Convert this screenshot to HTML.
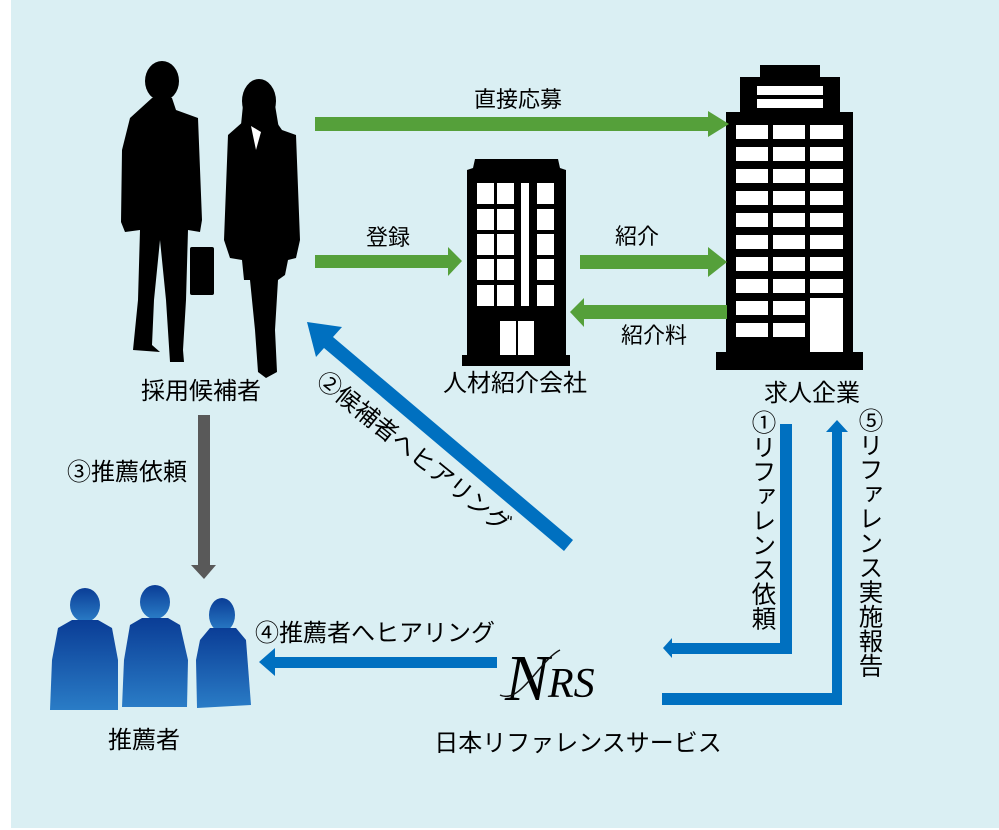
<!DOCTYPE html>
<html><head><meta charset="utf-8"><style>
html,body{margin:0;padding:0;background:#fff;}
svg{display:block;}
text{font-family:"Liberation Sans","Noto Sans CJK JP",sans-serif;fill:#000;}
</style></head><body>
<svg width="999" height="830" viewBox="0 0 999 830" xmlns="http://www.w3.org/2000/svg">
<defs>
<linearGradient id="bg" x1="0" y1="0" x2="0" y2="1"><stop offset="0" stop-color="#0a3d96"/><stop offset="1" stop-color="#2a7cc6"/></linearGradient>
</defs>
<rect x="11" y="0" width="988" height="828" fill="#daeff3"/>

<g fill="#000">
<ellipse cx="162" cy="81" rx="17" ry="20"/>
<path d="M152 98 L172 98 L176 110 L198 118 L202 220 L200 232 L188 230 L186 300 L183 350 L184 362 L170 362 L166 300 L160 240 L154 300 L152 345 L160 352 L133 350 L138 300 L140 230 L125 232 L121 222 L122 150 L130 118 Z"/>
<rect x="190" y="247" width="24" height="48" rx="2"/>
<ellipse cx="259" cy="101" rx="17" ry="22"/>
<path d="M243 105 L275 105 L280 135 L240 135 Z"/>
<path d="M245 120 L275 120 L282 130 L296 135 L300 240 L296 258 L288 260 L285 275 L278 280 L275 330 L277 372 L266 378 L258 372 L255 330 L250 280 L244 280 L242 260 L230 258 L224 240 L228 135 Z"/>
</g>
<path d="M251 126 L256 150 L261 132 Z" fill="#fff"/>

<g>
<path d="M475 159 L558 159 L560 168 L566 170 L566 355 L570 355 L570 366 L462 366 L462 355 L467 355 L467 170 L473 168 Z" fill="#000"/>
<g fill="#fff">
<rect x="477" y="183" width="17" height="21"/><rect x="497" y="183" width="17" height="21"/><rect x="537" y="183" width="17" height="21"/>
<rect x="477" y="209" width="17" height="21"/><rect x="497" y="209" width="17" height="21"/><rect x="537" y="209" width="17" height="21"/>
<rect x="477" y="234" width="17" height="21"/><rect x="497" y="234" width="17" height="21"/><rect x="537" y="234" width="17" height="21"/>
<rect x="477" y="259" width="17" height="21"/><rect x="497" y="259" width="17" height="21"/><rect x="537" y="259" width="17" height="21"/>
<rect x="477" y="285" width="17" height="21"/><rect x="497" y="285" width="17" height="21"/><rect x="537" y="285" width="17" height="21"/>
<rect x="521" y="183" width="8" height="123"/>
<rect x="500" y="321" width="16" height="34"/><rect x="518" y="321" width="16" height="34"/>
</g>
</g>

<g>
<path d="M760 65 L820 65 L820 77 L840 77 L840 112 L853 112 L853 352 L863 352 L863 370 L716 370 L716 352 L726 352 L726 112 L740 112 L740 77 L760 77 Z" fill="#000"/>
<g fill="#fff">
<rect x="757" y="86" width="66" height="9"/><rect x="757" y="99" width="66" height="9"/>
<g id="row"><rect x="736" y="125" width="32" height="14"/><rect x="773" y="125" width="32" height="14"/><rect x="810" y="125" width="33" height="14"/></g>
<use href="#row" y="22"/><use href="#row" y="44"/><use href="#row" y="66"/><use href="#row" y="88"/><use href="#row" y="110"/><use href="#row" y="132"/><use href="#row" y="154"/>
<rect x="736" y="301" width="32" height="14"/><rect x="773" y="301" width="32" height="14"/>
<rect x="736" y="323" width="32" height="14"/><rect x="773" y="323" width="32" height="14"/>
<rect x="810" y="298" width="33" height="54"/>
</g>
</g>

<g fill="#55a03a">
<path d="M315 117 L708 117 L708 111 L729 124 L708 137 L708 131 L315 131 Z"/>
<path d="M315 255 L448 255 L448 247 L462 261 L448 276 L448 268 L315 268 Z"/>
<path d="M580 255 L708 255 L708 247 L727 262 L708 277 L708 269 L580 269 Z"/>
<path d="M727 305 L584 305 L584 298 L570 312 L584 327 L584 319 L727 319 Z"/>
</g>

<path d="M198 415 L210 415 L210 565 L216 565 L204 579 L191 565 L198 565 Z" fill="#595959"/>

<g fill="#0070c0">
<path d="M573 540 L564 551 L324 348 L316 357 L307 322 L342 327 L333 337 Z"/>
<path d="M780 424 L792 424 L792 654 L672 654 L672 658 L663 648 L672 638 L672 643 L780 643 Z"/>
<path d="M662 693 L832 693 L832 432 L826 432 L837 420 L848 432 L842 432 L842 705 L662 705 Z"/>
<path d="M497 657 L275 657 L275 648 L259 662 L275 676 L275 668 L497 668 Z"/>
</g>

<g fill="url(#bg)">
<ellipse cx="85" cy="605" rx="15" ry="17"/>
<path d="M72 620 L98 620 L112 628 L118 660 L118 710 L50 710 L52 660 L58 628 Z"/>
<ellipse cx="155" cy="602" rx="15" ry="17"/>
<path d="M142 618 L168 618 L180 625 L188 660 L187 707 L122 707 L124 660 L130 625 Z"/>
<ellipse cx="222" cy="615" rx="13" ry="17"/>
<path d="M210 628 L236 628 L246 640 L251 705 L197 708 L196 660 L200 640 Z"/>
</g>

<text x="505" y="700" font-style="italic" font-size="66" style="font-family:'Liberation Serif',serif" fill="#111">N</text>
<text x="548" y="697" font-size="42" font-style="italic" style="font-family:'Liberation Serif',serif" fill="#111">RS</text>
<path d="M500 695 C520 705 540 660 560 650" stroke="#111" stroke-width="1.5" fill="none"/>

<g font-size="24">
<text x="518" y="107" text-anchor="middle" font-size="22">直接応募</text>
<text x="388" y="245" text-anchor="middle" font-size="22">登録</text>
<text x="637" y="244" text-anchor="middle" font-size="22">紹介</text>
<text x="654" y="343" text-anchor="middle" font-size="22">紹介料</text>
<text x="201" y="399" text-anchor="middle">採用候補者</text>
<text x="515" y="391" text-anchor="middle">人材紹介会社</text>
<text x="812" y="401" text-anchor="middle">求人企業</text>
<text x="127" y="480" text-anchor="middle">③推薦依頼</text>
<text x="375" y="641" text-anchor="middle">④推薦者へヒアリング</text>
<text x="144" y="748" text-anchor="middle">推薦者</text>
<text x="578" y="751" text-anchor="middle">日本リファレンスサービス</text>
<text transform="translate(315,383) rotate(39)">②候補者へヒアリング</text>
<text x="762" y="410" style="writing-mode:vertical-rl" font-size="24.5">①リファレンス依頼</text>
<text x="869" y="408" style="writing-mode:vertical-rl" font-size="24.5">⑤リファレンス実施報告</text>
</g>
</svg>
</body></html>
